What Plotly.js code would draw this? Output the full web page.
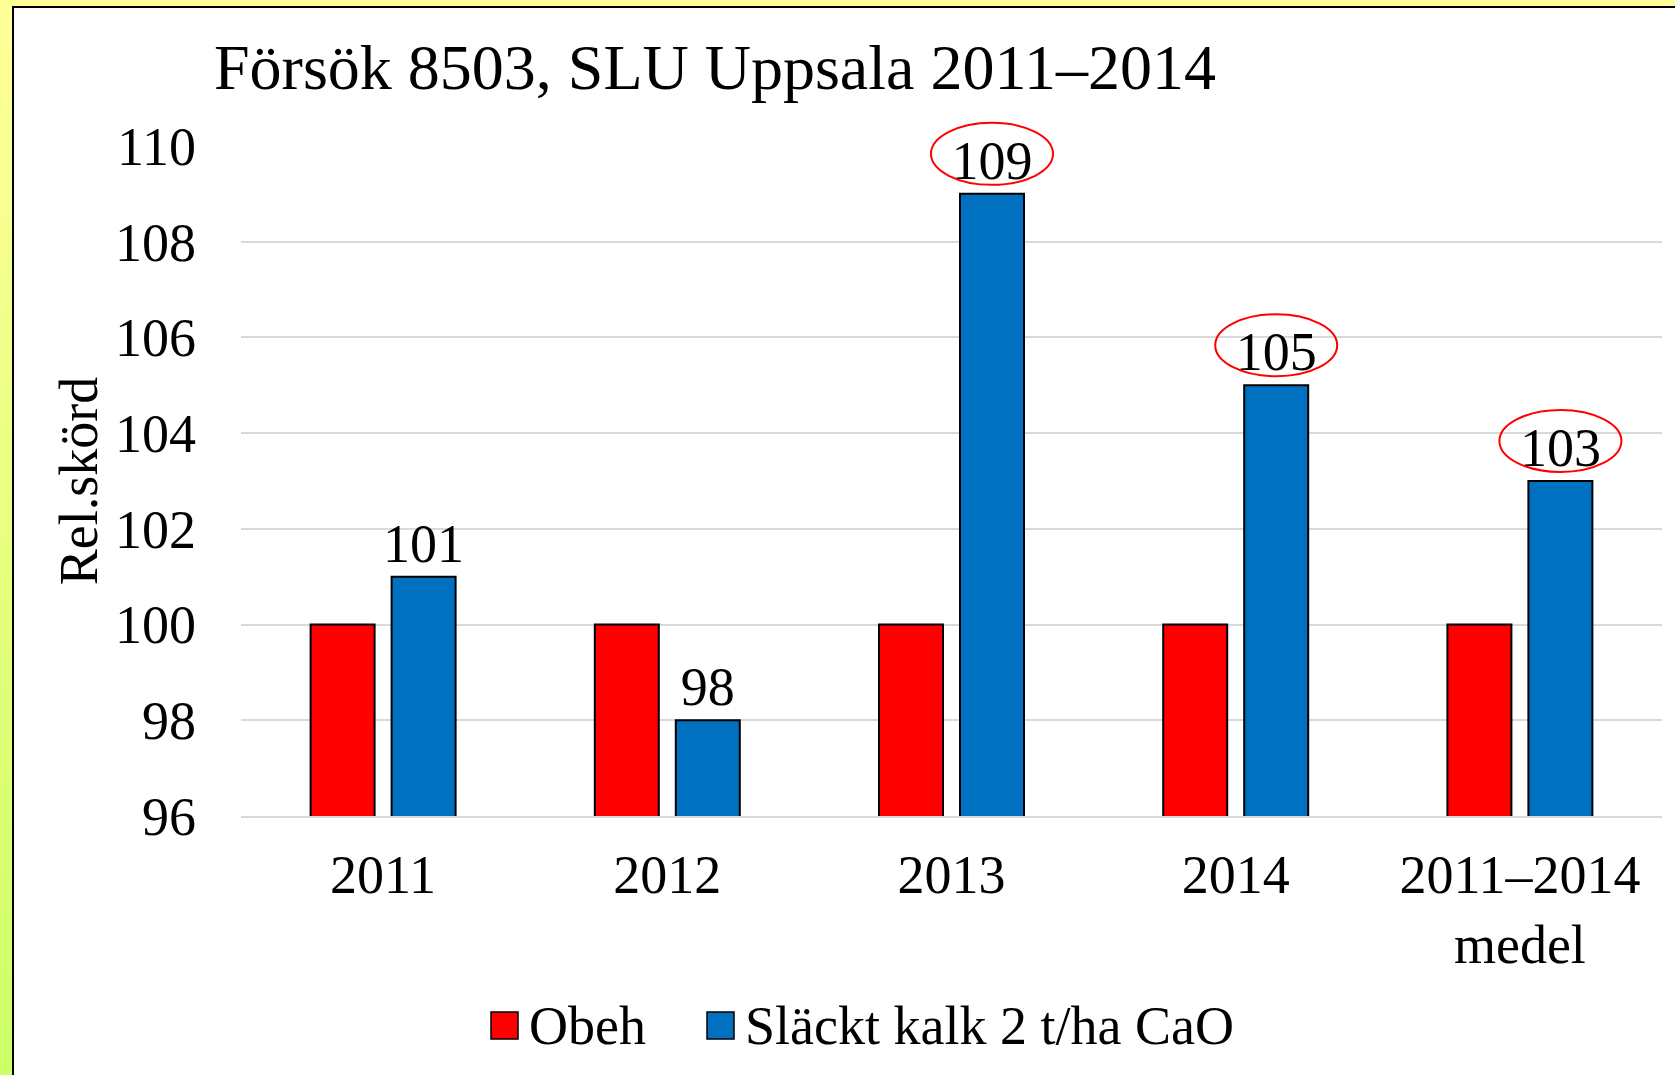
<!DOCTYPE html>
<html>
<head>
<meta charset="utf-8">
<script src="https://cdn.plot.ly/plotly-3.0.1.min.js"></script>
<style>
  html, body { margin: 0; padding: 0; }
  body {
    width: 1675px; height: 1075px; overflow: hidden;
    background: linear-gradient(to bottom, #ffff99 0%, #e8ff80 50%, #ccff66 100%);
    position: relative;
  }
  #plot-0 {
    position: absolute; left: 12px; top: 6px;
    width: 1663px; height: 1069px;
    border-left: 2px solid #000; border-top: 2px solid #000;
    background: #fff;
  }
</style>
</head>
<body>
<div id="plot-0"></div>
<script>
// chart data
var categories = ['2011', '2012', '2013', '2014', '2011–2014<br>medel'];
var seriesNames = ['Obeh', 'Släckt kalk 2 t/ha CaO'];
var obeh = [100, 100, 100, 100, 100];
var slackt = [101, 98, 109, 105, 103];
var circled = [false, false, true, true, true];
var yTicks = [96, 98, 100, 102, 104, 106, 108, 110];
var yRange = [96, 110];

var FONT = '"Liberation Serif", "Times New Roman", serif';
var RED = '#ff0000';
var BLUE = '#0070c0';
var BARGAP = 0.43;

var data = [{
    type: 'bar',
    name: seriesNames[0],
    x: categories,
    y: obeh,
    marker: { color: RED, line: { color: '#000', width: 2 } },
    showlegend: false
}, {
    type: 'bar',
    name: seriesNames[1],
    x: categories,
    y: slackt,
    text: slackt.map(String),
    textposition: 'outside',
    constraintext: 'none',
    cliponaxis: false,
    textfont: { family: FONT, size: 54, color: '#000' },
    marker: { color: BLUE, line: { color: '#000', width: 2 } },
    showlegend: false
}];

// red ellipses round some of the value labels
// (y given in paper units from the axis range so the ellipse is not clipped at the top)
var shapes = [];
var blueOffset = (1 - BARGAP) / 4;
slackt.forEach(function (v, i) {
    if (!circled[i]) return;
    shapes.push({
        type: 'circle', xref: 'x', yref: 'paper',
        xsizemode: 'pixel', ysizemode: 'pixel',
        xanchor: i + blueOffset,
        yanchor: (v - yRange[0]) / (yRange[1] - yRange[0]),
        x0: -61, x1: 61, y0: 9, y1: 71,
        line: { color: RED, width: 2 }
    });
});

// legend drawn by hand so the swatches can be large
var legendColors = [RED, BLUE];
var legendX = [477, 693];   // px inside the plot div
var plotL = 227, plotW = 1421, plotB = 808, plotH = 670;
function px2x(px) { return (px - plotL) / plotW; }
function px2y(py) { return (plotB - py) / plotH; }
var annotations = [];
seriesNames.forEach(function (n, i) {
    shapes.push({
        type: 'rect', xref: 'paper', yref: 'paper',
        x0: px2x(legendX[i]), x1: px2x(legendX[i] + 27),
        y0: px2y(1031), y1: px2y(1004),
        fillcolor: legendColors[i], line: { color: '#000', width: 1.5 }
    });
    annotations.push({
        xref: 'paper', yref: 'paper',
        x: px2x(legendX[i] + 36), y: px2y(1018),
        xanchor: 'left', yanchor: 'middle',
        text: n, showarrow: false,
        font: { family: FONT, size: 54, color: '#000' }
    });
});

var layout = {
    width: 1661,
    height: 1067,
    paper_bgcolor: '#fff',
    plot_bgcolor: '#fff',
    margin: { l: plotL, r: 13, t: 138, b: 259, pad: 0 },
    barmode: 'group',
    bargap: BARGAP,
    bargroupgap: 0.21,
    showlegend: false,
    font: { family: FONT, size: 54, color: '#000' },
    title: {
        text: 'Försök 8503, SLU Uppsala 2011–2014',
        font: { family: FONT, size: 64, color: '#000' },
        xref: 'container', yref: 'container',
        x: 200 / 1661, xanchor: 'left',
        y: 1 - 59 / 1067, yanchor: 'middle'
    },
    xaxis: {
        type: 'category',
        showgrid: false,
        showline: true, linecolor: '#d9d9d9', linewidth: 2,
        ticks: '',
        ticklabelstandoff: 10,
        tickfont: { family: FONT, size: 54, color: '#000' }
    },
    yaxis: {
        range: yRange,
        tickvals: yTicks,
        showgrid: true, gridcolor: '#d9d9d9', gridwidth: 2,
        zeroline: false,
        showline: false,
        ticks: '',
        ticklabelstandoff: 44,
        tickfont: { family: FONT, size: 54, color: '#000' },
        title: {
            text: 'Rel.skörd',
            standoff: 0,
            font: { family: FONT, size: 54, color: '#000' }
        }
    },
    shapes: shapes,
    annotations: annotations
};

Plotly.newPlot('plot-0', data, layout, { staticPlot: true });
</script>
</body>
</html>
